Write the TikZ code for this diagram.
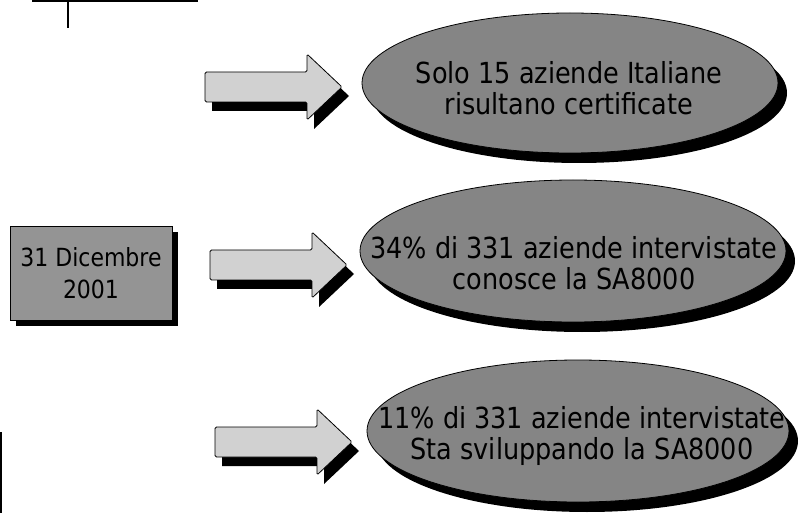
\documentclass[tikz,border=0pt]{standalone}
\usepackage{fontspec}
\setmainfont[FakeStretch=0.88]{DejaVu Sans}
\usepackage{tikz}
\usetikzlibrary{shapes.geometric, positioning}
\tikzstyle{oval}   = [ellipse, inner sep=0pt, draw=black, line width=0.8pt,
                      fill=black!48]
\tikzstyle{ovalsh} = [ellipse, inner sep=0pt, fill=black]
\tikzstyle{ovaltext} = [align=center, text=black,
                        font=\fontsize{29}{31}\selectfont]
\tikzstyle{datebox} = [rectangle, minimum width=162pt, minimum height=94pt,
                       draw=black, line width=0.8pt, fill=black!42,
                       align=center, font=\fontsize{25}{32}\selectfont]
\tikzstyle{dateshadow} = [rectangle, minimum width=162pt, minimum height=94pt,
                          fill=black]
\tikzstyle{blockarrow} = [draw=black, line width=0.8pt, fill=black!18,
                          rounded corners=1.5pt]
\tikzstyle{arrowshadow} = [fill=black]
\tikzstyle{scan} = [line width=2pt, black]
% shaft 102pt long and 30pt high, head 35pt long and 66pt high
\newcommand{\blockarrowpath}{-- ++(102,0) -- ++(0,-18) -- ++(35,33)
  -- ++(-35,33) -- ++(0,-18) -- ++(-102,0) -- cycle}

\begin{document}
\begin{tikzpicture}[x=1pt, y=-1pt]
\useasboundingbox (0,0) rectangle (801,513);

% scan marks
\coordinate (s1) at (32,1);
\coordinate (s2) at (198,1);
\coordinate (s3) at (68,0);
\coordinate (s4) at (68,28);
\coordinate (s5) at (1,432);
\coordinate (s6) at (1,513);
\draw [scan] (s1) -- (s2);
\draw [scan] (s3) -- (s4);
\draw [scan] (s5) -- (s6);

% date box
\node (dsh) [dateshadow] at (97,279) {};
\node (date) [datebox] at (91,273) {31 Dicembre\\2001};

% arrows
\coordinate (a1) at (205,72);
\coordinate (a2) at (210,250);
\coordinate (a3) at (215,427);
\foreach \a in {a1,a2,a3} {
  \fill [arrowshadow] ([shift={(7,9)}]\a) \blockarrowpath;
  \draw [blockarrow] (\a) \blockarrowpath;
}

% ovals
\node (e1s) [ovalsh, minimum width=416pt, minimum height=140pt] at (579,93) {};
\node (e1)  [oval,   minimum width=416pt, minimum height=140pt] at (570,83) {};
\node (t1)  [ovaltext] at (569,88) {Solo 15 aziende Italiane\\risultano certificate};

\node (e2s) [ovalsh, minimum width=426pt, minimum height=142pt] at (582,261) {};
\node (e2)  [oval,   minimum width=426pt, minimum height=142pt] at (573,251) {};
\node (t2)  [ovaltext] at (574,263) {34\% di 331 aziende intervistate\\conosce la SA8000};

\node (e3s) [ovalsh, minimum width=422pt, minimum height=142pt] at (587,441) {};
\node (e3)  [oval,   minimum width=422pt, minimum height=142pt] at (578,431) {};
\node (t3)  [ovaltext] at (582,436) {11\% di 331 aziende intervistate\\Sta sviluppando la SA8000};
\end{tikzpicture}
\end{document}
